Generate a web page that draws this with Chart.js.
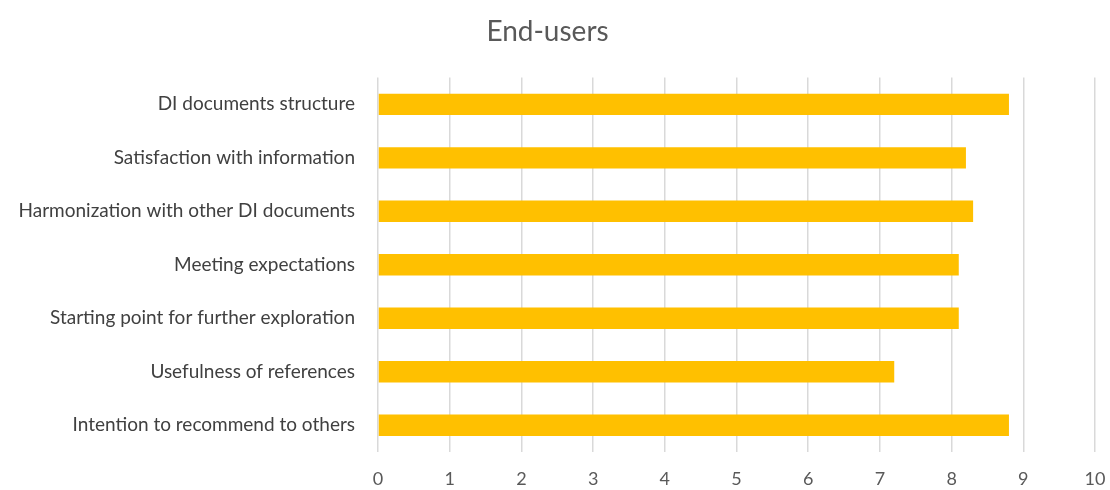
<!DOCTYPE html>
<html>
<head>
<meta charset="utf-8">
<script src="https://cdn.jsdelivr.net/npm/chart.js@4/dist/chart.umd.min.js"></script>
<style>
  html, body { margin:0; padding:0; background:#fff; }
  #wrap { width:1110px; height:490px; }
</style>
</head>
<body>
<div id="wrap"><canvas id="myChart" width="1110" height="490"></canvas></div>
<script>
// categories and scores
const categories = [
    'DI documents structure',
    'Satisfaction with information',
    'Harmonization with other DI documents',
    'Meeting expectations',
    'Starting point for further exploration',
    'Usefulness of references',
    'Intention to recommend to others'
];
const scores = [8.8, 8.2, 8.3, 8.1, 8.1, 7.2, 8.8];
const xTicks = [0, 1, 2, 3, 4, 5, 6, 7, 8, 9, 10];

const ctx = document.getElementById('myChart').getContext('2d');

const myChart = new Chart(ctx, {
    type: 'bar',
    data: {
        labels: categories,
        datasets: [{
            label: 'End-users',
            data: scores,
            backgroundColor: '#FFC000',
            borderWidth: 0,
            categoryPercentage: 1,
            barPercentage: 0.4
        }]
    },
    options: {
        indexAxis: 'y',
        responsive: false,
        animation: false,
        layout: {
            padding: { left: 0, right: 15, top: 0, bottom: 0 }
        },
        scales: {
            x: {
                min: 0,
                max: 10,
                afterBuildTicks: function(axis) { // fixed ticks 0..10
                    axis.ticks = xTicks.map(v => ({ value: v }));
                },
                afterFit: function(axis) {
                    axis.height = 38;
                    axis.paddingRight = 0; // let the "10" overhang the edge room
                    axis.paddingLeft = 0;
                },
                grid: {
                    color: '#d9d9d9',
                    lineWidth: 1.5,
                    drawTicks: false
                },
                border: { display: false },
                ticks: {
                    color: '#595959',
                    padding: 16,
                    font: { family: 'Lato', size: 18 }
                }
            },
            y: {
                afterFit: function(axis) { axis.width = 378; },
                grid: { display: false, drawTicks: false },
                border: { display: false },
                ticks: {
                    color: '#404040',
                    padding: 23,
                    font: { family: 'Lato', size: 19 }
                }
            }
        },
        plugins: {
            legend: { display: false },
            tooltip: { enabled: false },
            title: {
                display: true,
                text: 'End-users',
                color: '#595959',
                font: { family: 'Lato', size: 28, weight: 'normal' },
                padding: { top: 15, bottom: 29 }
            }
        }
    }
});
</script>
</body>
</html>
